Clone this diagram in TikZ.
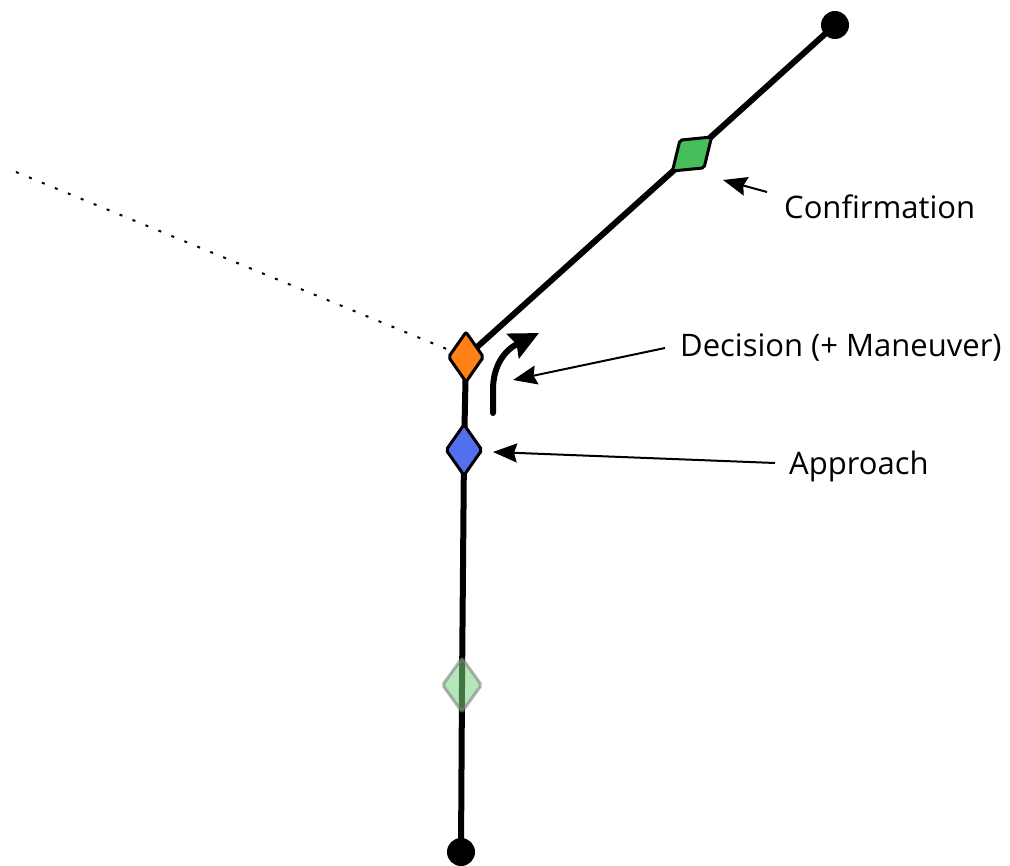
\documentclass[tikz,border=0pt]{standalone}
\usepackage{fontspec}
\setmainfont{Open Sans}
\usetikzlibrary{arrows.meta,shapes.geometric,backgrounds}
\definecolor{cOrange}{RGB}{255,128,20}
\definecolor{cBlue}{RGB}{80,112,240}
\definecolor{cGreen}{RGB}{70,190,90}
\definecolor{cLight}{RGB}{120,210,130}
\tikzset{
  road/.style={line width=6pt, line cap=round, line join=round},
  endpt/.style={circle, fill=black, minimum size=28pt, inner sep=0pt},
  mark diamond/.style={diamond, draw=black, line width=3pt, inner sep=0pt, rounded corners=2pt},
  lbl/.style={anchor=west, inner sep=0pt, font=\fontsize{31}{37}\selectfont},
  ptr/.style={line width=2pt, -{Stealth[length=24pt,width=19pt,inset=3pt]}},
  turn/.style={line width=6pt, line cap=round, -{Stealth[length=29pt,width=27pt,inset=4pt]}},
}
\begin{document}
\begin{tikzpicture}[x=1pt,y=-1pt]
\useasboundingbox (0,0) rectangle (1010,866);
\node[endpt] (top) at (835,25) {};
\node[endpt] (bottom) at (461,852) {};
\node[mark diamond, fill=cOrange, minimum width=36pt, minimum height=51pt] (orange) at (466,357) {};
\node[mark diamond, fill=cBlue, minimum width=37pt, minimum height=52pt] (blue) at (464,450) {};
\node[mark diamond, fill=cGreen, minimum width=38pt, minimum height=53pt, rotate=-49] (green) at (692,154) {};
\node[diamond, draw=gray, draw opacity=0.6, line width=3pt, fill=cLight, fill opacity=0.55, inner sep=0pt, rounded corners=2pt, minimum width=40pt, minimum height=55pt] (ghost) at (462,685) {};
\begin{scope}[on background layer]
  \draw[road] (bottom.center) -- (ghost.center) -- (blue.center) -- (orange.center) -- (green.center) -- (top.center);
\end{scope}
\coordinate (farleft) at (16,172);
\draw[line width=2pt, dash pattern=on 3pt off 11pt] (farleft) -- (orange);
% labels
\node[lbl] (conf) at (784,207) {Confirmation};
\node[lbl] (dec) at (680,348) {Decision (+ Maneuver)};
\node[lbl] (app) at (789,466) {Approach};
% pointers
\coordinate (confS) at (767,192);
\coordinate (confT) at (723,180);
\draw[ptr] (confS) -- (confT);
\coordinate (decS) at (665,348);
\coordinate (decT) at (513,380);
\draw[ptr] (decS) -- (decT);
\coordinate (appS) at (775,463);
\coordinate (appT) at (493,452);
\draw[ptr] (appS) -- (appT);
% turning arrow
\coordinate (turnS) at (493,413);
\coordinate (turnM) at (493,390);
\coordinate (turnT) at (539,333);
\draw[turn] (turnS) -- (turnM) .. controls (493,365) and (505,350) .. (turnT);
\end{tikzpicture}
\end{document}
